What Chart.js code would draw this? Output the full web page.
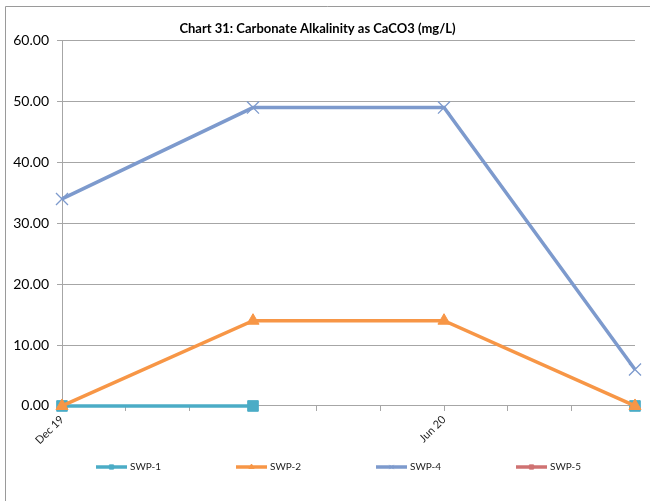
<!DOCTYPE html>
<html>
<head>
<meta charset="utf-8">
<script src="https://cdn.jsdelivr.net/npm/chart.js@4.4.1/dist/chart.umd.min.js"></script>
<style>
  html, body { margin: 0; padding: 0; background: #ffffff; }
  #wrap { width: 650px; height: 501px; position: relative; }
</style>
</head>
<body>
<div id="wrap"><canvas id="chart" width="650" height="501"></canvas></div>
<script>
// Sampling dates and measured values (mg/L); null = no sample
const sampleDates = ['Dec 19', 'Mar 20', 'Jun 20', 'Sep 20'];
const swp1 = [0, 0, null, 0];
const swp2 = [0, 14, 14, 0];
const swp4 = [34, 49, 49, 6];
const swp5 = [null, null, null, null];
const seriesNames = ['SWP-1', 'SWP-2', 'SWP-4', 'SWP-5'];
const axisDateLabels = ['Dec 19', 'Jun 20'];
const yMin = 0, yMax = 60, yStep = 10;

const MONTHS = ['Jan','Feb','Mar','Apr','May','Jun','Jul','Aug','Sep','Oct','Nov','Dec'];
function monthNumber(label) {
  const [m, y] = label.split(' ');
  return (2000 + parseInt(y, 10)) * 12 + MONTHS.indexOf(m);
}
const baseMonth = monthNumber(sampleDates[0]);
const lastMonth = monthNumber(sampleDates[sampleDates.length - 1]) - baseMonth;
function monthLabel(offset) {
  const n = baseMonth + offset;
  return MONTHS[n % 12] + ' ' + String(Math.floor(n / 12) - 2000).padStart(2, '0');
}
function toPoints(values) {
  return sampleDates.map((d, i) => ({ x: monthNumber(d) - baseMonth, y: values[i] }));
}

const FONT = 'Lato, "Open Sans", "Liberation Sans", sans-serif';
const GRID = '#a6a6a6';

const styles = [
  { color: '#4bacc6', pointStyle: 'rect', radius: 7.5, pointBorderWidth: 1 },
  { color: '#f79646', pointStyle: 'triangle', radius: 7, pointBorderWidth: 1 },
  { color: '#7d9acd', pointStyle: 'crossRot', radius: 8.5, pointBorderWidth: 1.3 },
  { color: '#cf7272', pointStyle: 'rect', radius: 6, pointBorderWidth: 1 }
];
const seriesValues = [swp1, swp2, swp4, swp5];

const datasets = seriesValues.map((vals, i) => ({
  label: seriesNames[i],
  data: toPoints(vals),
  borderColor: styles[i].color,
  backgroundColor: styles[i].color,
  borderWidth: 3.5,
  pointStyle: styles[i].pointStyle,
  pointRadius: styles[i].radius,
  pointHoverRadius: styles[i].radius,
  pointBorderWidth: styles[i].pointBorderWidth,
  pointBackgroundColor: styles[i].color,
  pointBorderColor: styles[i].color,
  spanGaps: false,
  tension: 0,
  clip: false,
  order: seriesValues.length - i
}));

// White background and the frame around the chart
const framePlugin = {
  id: 'frame',
  beforeDraw(chart) {
    const ctx = chart.ctx;
    ctx.save();
    ctx.fillStyle = '#ffffff';
    ctx.fillRect(0, 0, chart.width, chart.height);
    ctx.strokeStyle = '#9a9a9a';
    ctx.lineWidth = 1;
    ctx.beginPath();
    ctx.moveTo(5.5, chart.height);
    ctx.lineTo(5.5, 6.5);
    ctx.lineTo(chart.width, 6.5);
    ctx.stroke();
    ctx.restore();
  }
};

// Legend row under the plot: line sample with a small marker, then the series name
const legendRow = {
  id: 'legendRow',
  afterDraw(chart) {
    const ctx = chart.ctx;
    const y = 467;
    const startX = 96;
    const gap = 140;
    ctx.save();
    chart.data.datasets.forEach((ds, i) => {
      const x0 = startX + i * gap;
      ctx.strokeStyle = ds.borderColor;
      ctx.lineWidth = 3.5;
      ctx.beginPath();
      ctx.moveTo(x0, y);
      ctx.lineTo(x0 + 31, y);
      ctx.stroke();
      ctx.fillStyle = ds.borderColor;
      ctx.lineWidth = 1;
      Chart.helpers.drawPoint(ctx, {
        pointStyle: ds.pointStyle,
        radius: 3,
        borderWidth: 1,
        rotation: 0
      }, x0 + 15.5, y);
      ctx.fillStyle = '#222';
      ctx.font = '10px ' + FONT;
      ctx.textAlign = 'left';
      ctx.textBaseline = 'middle';
      ctx.fillText(ds.label, x0 + 34, y);
    });
    ctx.restore();
  }
};

new Chart(document.getElementById('chart'), {
  type: 'line',
  data: { datasets },
  plugins: [framePlugin, legendRow],
  options: {
    responsive: false,
    animation: false,
    events: [],
    layout: { padding: { left: 0, right: 15, top: 0, bottom: 52 } },
    plugins: {
      legend: { display: false },
      tooltip: { enabled: false },
      title: {
        display: true,
        text: 'Chart 31: Carbonate Alkalinity as CaCO3 (mg/L)',
        color: '#000',
        font: { family: FONT, size: 13, weight: 'bold' },
        padding: { top: 21, bottom: 4 }
      }
    },
    scales: {
      x: {
        type: 'linear',
        min: 0,
        max: lastMonth,
        afterBuildTicks(scale) {
          scale.ticks = [];
          for (let m = 0; m <= lastMonth; m++) scale.ticks.push({ value: m });
        },
        ticks: {
          autoSkip: false,
          minRotation: 45,
          maxRotation: 45,
          padding: 2,
          color: '#222',
          font: { family: FONT, size: 11 },
          callback(v) {
            const lbl = monthLabel(v);
            return axisDateLabels.includes(lbl) ? lbl : '';
          }
        },
        grid: { display: true, drawOnChartArea: false, drawTicks: true, tickLength: 5, color: GRID },
        border: { display: true, color: GRID, width: 1 }
      },
      y: {
        min: yMin,
        max: yMax,
        afterFit(scale) { scale.width = 62; },
        ticks: {
          stepSize: yStep,
          padding: 8,
          color: '#000',
          font: { family: FONT, size: 14 },
          callback: v => v.toFixed(2)
        },
        grid: { color: GRID, lineWidth: 1, tickLength: 5, drawTicks: true },
        border: { display: true, color: GRID, width: 1 }
      }
    }
  }
});
</script>
</body>
</html>
